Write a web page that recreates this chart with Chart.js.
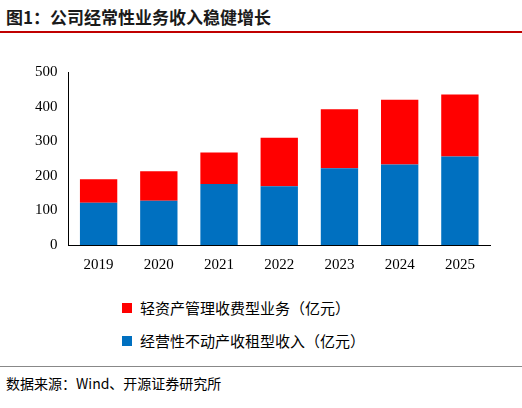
<!DOCTYPE html>
<html>
<head>
<meta charset="utf-8">
<script src="https://cdn.jsdelivr.net/npm/chart.js@4"></script>
<style>
  body { margin: 0; width: 522px; height: 408px; background: #fff; font-family: "Liberation Serif", "Noto Sans CJK SC", serif; position: relative; overflow: hidden; }
  #title { position: absolute; left: 6px; top: 4px; font: bold 17px "Noto Sans CJK SC", sans-serif; color: #1a1a1a; }
  #titleLine { position: absolute; left: 0; top: 31px; width: 522px; height: 2px; background: #c00000; }
  #wrap { position: absolute; left: 0; top: 60px; width: 522px; height: 217px; }
  #legend { position: absolute; left: 122px; top: 291px; font: 15px "Noto Sans CJK SC", sans-serif; color: #000; }
  .item { display: flex; align-items: center; height: 33px; }
  .sw { width: 10px; height: 10px; margin-right: 8px; }
  #srcLine { position: absolute; left: 0; top: 366px; width: 522px; height: 1px; background: #888; }
  #source { position: absolute; left: 6px; top: 373px; font: 14px "Noto Sans CJK SC", sans-serif; color: #000; }
</style>
</head>
<body>
<div id="title">图1：公司经常性业务收入稳健增长</div>
<div id="titleLine"></div>
<div id="wrap"><canvas id="c"></canvas></div>
<div id="legend"></div>
<div id="srcLine"></div>
<div id="source">数据来源：Wind、开源证券研究所</div>
<script>
// ==================== Data ====================
const years = ['2019', '2020', '2021', '2022', '2023', '2024', '2025'];
const rentalIncome = [122, 128, 176, 170, 222, 233, 256];
const lightAssetIncome = [68, 85, 91, 140, 170, 187, 179];
const yTicks = [0, 100, 200, 300, 400, 500];

const seriesNames = ['轻资产管理收费型业务（亿元）', '经营性不动产收租型收入（亿元）'];
const seriesColors = ['#FF0000', '#0070C0'];

// ==================== Chart ====================
const chart = new Chart(document.getElementById('c'), {
    type: 'bar',
    data: {
        labels: years,
        datasets: [{
            label: seriesNames[1],
            data: rentalIncome,
            backgroundColor: seriesColors[1],
            barPercentage: 0.62,
            categoryPercentage: 1
        }, {
            label: seriesNames[0],
            data: lightAssetIncome,
            backgroundColor: seriesColors[0],
            barPercentage: 0.62,
            categoryPercentage: 1
        }]
    },
    options: {
        responsive: true,
        maintainAspectRatio: false,
        animation: false,
        layout: { padding: { left: 32, right: 32, top: 8 } },
        plugins: { legend: { display: false }, tooltip: { enabled: false } },
        scales: {
            x: {
                stacked: true,
                grid: { display: false, drawTicks: true },
                border: { color: '#000' },
                ticks: { color: '#000', font: { size: 15, family: 'Liberation Serif' } }
            },
            y: {
                stacked: true,
                min: yTicks[0],
                max: yTicks[yTicks.length - 1],
                afterBuildTicks: axis => { axis.ticks = yTicks.map(v => ({ value: v })); },
                grid: { display: false },
                border: { color: '#000' },
                ticks: { color: '#000', font: { size: 15, family: 'Liberation Serif' } }
            }
        }
    }
});

// ==================== Legend ====================
document.getElementById('legend').innerHTML = seriesNames.map((n, i) =>
    `<div class="item"><span class="sw" style="background:${seriesColors[i]}"></span>${n}</div>`).join('');
</script>
</body>
</html>
